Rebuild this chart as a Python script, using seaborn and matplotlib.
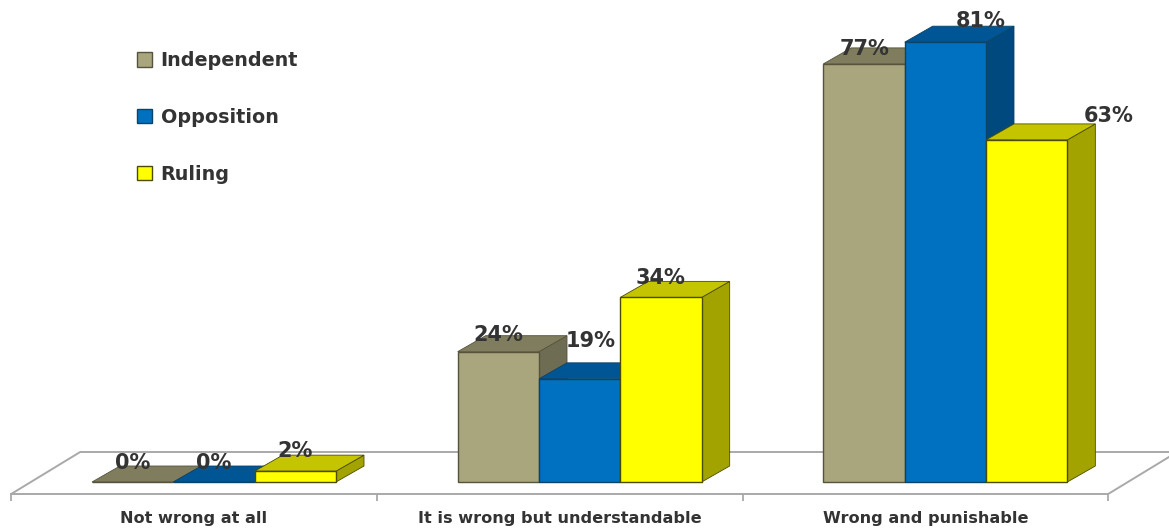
import matplotlib
matplotlib.use("Agg")
import matplotlib.pyplot as plt
import pandas as pd
import seaborn as sns
from matplotlib.patches import Polygon

# Survey responses by political affiliation (percent)
categories = ["Not wrong at all", "It is wrong but understandable", "Wrong and punishable"]
groups = ["Independent", "Opposition", "Ruling"]
independent = [0, 24, 77]
opposition = [0, 19, 81]
ruling = [2, 34, 63]

# Face colours for the box look: front, top, side
front_colors = ["#A9A57C", "#0070C0", "#FFFF00"]
top_colors = ["#807D5E", "#005594", "#C4C400"]
side_colors = ["#6E6C52", "#00497F", "#A3A300"]
edge_colors = ["#55533C", "#0A4468", "#4C4C00"]
TEXT = "#333333"

# Canvas scale: pixels per category and per percentage point
PX_X, PX_Y = 365.67, 5.43
W, H = 1169, 530
BASE_X, BASE_Y = 214, 482          # pixel position of first group centre and of zero
DEPTH_X, DEPTH_Y = 28 / PX_X, 16 / PX_Y   # box depth in data units
AXIS_SHIFT = 20 / PX_X             # the axis sits ahead of the boxes
AXIS_Y = -12 / PX_Y                # front edge of the floor
FLOOR_X, FLOOR_Y = 69 / PX_X, 42 / PX_Y   # floor depth

# Label nudges in pixels relative to each bar's top centre
label_nudge = {
    "Independent": [(0, 21), (0, 19), (1, 17)],
    "Opposition": [(0, 21), (11, 40), (35, 23)],
    "Ruling": [(0, 22), (-1, 21), (82, 26)],
}

sns.set_theme(style="white")
plt.rcParams["font.family"] = ["DejaVu Sans"]

df = pd.DataFrame({
    "category": categories * 3,
    "group": [g for g in groups for _ in categories],
    "value": independent + opposition + ruling,
})

fig = plt.figure(figsize=(W / 100, H / 100), dpi=100, facecolor="white")
ax = fig.add_axes([0, 0, 1, 1])
sns.barplot(data=df, x="category", y="value", hue="group", hue_order=groups,
            order=categories, palette=front_colors, width=244 / PX_X, gap=0,
            saturation=1, ax=ax, errorbar=None)

ax.set_xlim(-BASE_X / PX_X, (W - BASE_X) / PX_X)
ax.set_ylim(-(H - BASE_Y) / PX_Y, BASE_Y / PX_Y)
ax.set_xlabel("")
ax.set_ylabel("")
ax.yaxis.set_visible(False)
ax.patch.set_visible(False)
for side in ("top", "left", "right"):
    ax.spines[side].set_visible(False)

# Floor: front edge is the axis spine, the rest is drawn as plain lines
left, right = -0.5 - AXIS_SHIFT, 2.5 - AXIS_SHIFT
floor_color = "#A9A9A9"
ax.spines["bottom"].set_position(("data", AXIS_Y))
ax.spines["bottom"].set_bounds(left, right)
ax.spines["bottom"].set_color(floor_color)
ax.spines["bottom"].set_linewidth(1.4)
back_y = AXIS_Y + FLOOR_Y
ax.plot([left, left + FLOOR_X, right + FLOOR_X], [AXIS_Y, back_y, back_y],
        color=floor_color, lw=1.4, zorder=0.5)
ax.plot([right, right + FLOOR_X], [AXIS_Y, back_y], color=floor_color, lw=1.4, zorder=0.5)

ax.set_xticks([left + i for i in range(4)], labels=[""] * 4)
ax.set_xticks([i - AXIS_SHIFT for i in range(3)], labels=categories, minor=True)
ax.tick_params(axis="x", which="major", length=5, width=1.3, color=floor_color, bottom=True)
ax.tick_params(axis="x", which="minor", length=0, pad=12, labelsize=11.6, labelcolor=TEXT)
for lab in ax.get_xticklabels(minor=True):
    lab.set_fontweight("bold")

# Extrude every bar into a box and put its value above it
for h, (group, container) in enumerate(zip(groups, ax.containers)):
    z = 2 + 3 * h
    for bar, (nx, ny) in zip(container, label_nudge[group]):
        x0, w, v = bar.get_x(), bar.get_width(), bar.get_height()
        x1 = x0 + w
        bar.set_edgecolor(edge_colors[h])
        bar.set_linewidth(1.0)
        bar.set_zorder(z + 2)
        ax.add_patch(Polygon([(x1, 0), (x1 + DEPTH_X, DEPTH_Y), (x1 + DEPTH_X, v + DEPTH_Y), (x1, v)],
                             closed=True, fc=side_colors[h], ec=edge_colors[h], lw=0.6, zorder=z))
        ax.add_patch(Polygon([(x0, v), (x0 + DEPTH_X, v + DEPTH_Y), (x1 + DEPTH_X, v + DEPTH_Y), (x1, v)],
                             closed=True, fc=top_colors[h], ec=edge_colors[h], lw=0.6, zorder=z + 1))
        ax.annotate(f"{v:g}%", (x0 + w / 2, v), xytext=(nx * 0.72, ny * 0.72),
                    textcoords="offset points", ha="center", va="center_baseline",
                    fontsize=15, fontweight="bold", color=TEXT, zorder=30)

# Legend keeps the bar handles that seaborn produced
ax.get_legend().remove()
handles = [c.patches[0] for c in ax.containers]
leg = fig.legend(handles, groups, loc="upper left", bbox_to_anchor=(137 / W, 1 - 51 / H),
                 frameon=False, handlelength=0.78, handleheight=0.78, handletextpad=0.45,
                 labelspacing=1.98, borderpad=0, borderaxespad=0,
                 prop={"family": "DejaVu Sans", "weight": "bold", "size": 13.8})
for t in leg.get_texts():
    t.set_color(TEXT)

fig.savefig("out.png", dpi=100, facecolor="white")
